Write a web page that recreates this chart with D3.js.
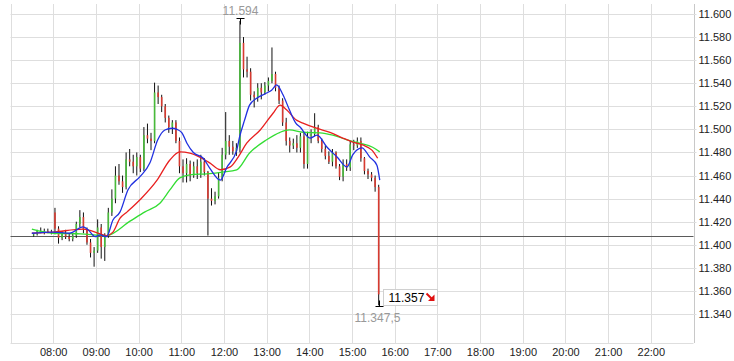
<!DOCTYPE html>
<html>
<head>
<meta charset="utf-8">
<script src="https://cdn.jsdelivr.net/npm/d3@7"></script>
<style>
  body { margin: 0; background: #fff; }
  svg { display: block; font-family: "Liberation Sans", Arial, sans-serif; }
  .axis text { font-size: 11px; fill: #222; }
  .axis path, .axis line { stroke: none; }
</style>
</head>
<body>
<script>
// 5-minute candles, first bar at 07:30 (index points)
const opens = [11408,11409,11412,11411,11412,11411,
  11428,11414,11406,11410,11407,11405,11408,11418,11424,11413,11402,11393,
  11395,11415,11398,11408,11428,11440,11460,11455,11450,11474,11472,11468,
  11476,11466,11495,11492,11490,11532,11528,11520,11510,11502,11506,11490,
  11468,11462,11470,11460,11468,11462,11472,11463,11440,11438,11442,11458,
  11478,11490,11485,11481,11484,11575,11552,11550,11530,11528,11536,11532,
  11538,11542,11548,11536,11525,11506,11490,11486,11488,11484,11494,11470,
  11494,11496,11502,11490,11483,11477,11472,11480,11468,11459,11470,11467,
  11487,11486,11490,11475,11464,11461,11458,11450];
const highs = [11410,11413,11415,11414,11414,11413,
  11432,11416,11412,11413,11410,11410,11420,11430,11428,11415,11405,11398,
  11422,11418,11410,11432,11448,11468,11470,11460,11480,11483,11478,11480,
  11478,11502,11505,11497,11540.5,11538,11530,11522,11512,11508,11508,11493,
  11474,11475,11473,11472,11474,11478,11475,11464,11449,11446,11463,11484,
  11515,11495,11490,11488,11594,11580,11563,11553,11533,11540,11540,11541,
  11545,11571,11550,11538,11527,11510,11493,11492,11495,11497,11497,11498,
  11500,11514,11504,11492,11486,11481,11483,11481,11470,11474,11474,11490,
  11491,11493,11493,11476,11466,11463,11460,11452];
const lows = [11407,11408,11410,11409,11410,11409,
  11409,11401,11404,11405,11403,11403,11406,11415,11410,11400,11389,11381,
  11393,11388,11386,11406,11425,11436,11452,11445,11448,11468,11462,11460,
  11463,11464,11488,11482,11488,11522,11515,11506,11497,11496,11488,11462,
  11454,11454,11455,11458,11457,11458,11460,11408,11434,11435,11440,11455,
  11474,11478,11478,11477,11480,11545,11545,11525,11519,11524,11526,11530,
  11533,11540,11533,11522,11503,11486,11480,11483,11480,11480,11466,11466,
  11488,11494,11488,11480,11474,11470,11468,11466,11456,11455,11464,11464,
  11482,11484,11472,11461,11457,11455,11446,11347.5];
const closes = [11409,11412,11411,11412,11411,11410,
  11414,11406,11410,11407,11405,11408,11418,11424,11413,11402,11393,11395,
  11415,11398,11408,11428,11440,11460,11455,11450,11474,11472,11468,11476,
  11466,11495,11492,11490,11532,11528,11520,11510,11502,11506,11490,11468,
  11462,11470,11460,11468,11462,11472,11463,11440,11438,11442,11458,11478,
  11490,11485,11481,11484,11575,11552,11550,11530,11528,11536,11532,11538,
  11542,11548,11536,11525,11506,11490,11486,11488,11484,11494,11470,11494,
  11496,11502,11490,11483,11477,11472,11480,11468,11459,11470,11467,11487,
  11486,11490,11475,11464,11461,11458,11450,11357];

const maBlue = [["07:30",11410],["08:00",11411],["08:23",11410],["08:42",11415.5],["08:49",11413],
  ["08:59",11407],["09:06",11408.5],["09:15",11407],["09:24",11421.5],["09:34",11428.5],["09:45",11447.5],
  ["10:02",11459],["10:16",11471],["10:27",11491],["10:37",11499.5],["10:47",11501],["10:54",11500],
  ["11:01",11497],["11:08",11488],["11:17",11480],["11:31",11475],["11:40",11466.5],["11:55",11456],
  ["12:04",11467],["12:18",11482],["12:22",11493.5],["12:29",11508],["12:36",11521],["12:46",11527],
  ["13:00",11531.5],["13:07",11534],["13:14",11538.5],["13:23",11530],["13:32",11517],["13:41",11505.5],
  ["13:47",11502],["14:01",11492.5],["14:11",11495],["14:25",11484.5],["14:39",11476],["14:53",11467.5],
  ["15:01",11478],["15:14",11484],["15:25",11476],["15:35",11469],["15:39",11456]];
const maRed = [["07:30",11410],["08:00",11411],["08:42",11413.5],["09:06",11409.5],["09:15",11408],
  ["09:24",11411],["09:34",11423],["09:44",11428.5],["10:02",11439],["10:26",11456],["10:44",11473.5],
  ["10:58",11480.5],["11:12",11479.5],["11:26",11476],["11:40",11471],["11:55",11465],["12:09",11467.5],
  ["12:20",11476],["12:32",11488],["12:51",11499.5],["13:09",11514],["13:19",11521],["13:28",11517],
  ["13:42",11508],["13:51",11505.5],["14:10",11501],["14:29",11497.5],["14:47",11492.5],["15:01",11489],
  ["15:15",11486.5],["15:28",11482],["15:36",11475]];
const maGreen = [["07:30",11413.5],["08:00",11410],["08:38",11409.5],["09:15",11408],["09:48",11420.5],
  ["10:09",11428.5],["10:30",11436],["10:44",11447.5],["10:58",11458],["11:12",11460.5],["11:36",11461.5],
  ["11:58",11463],["12:18",11465],["12:36",11479.5],["13:00",11491],["13:19",11497.5],["13:32",11499.5],
  ["13:51",11497.5],["14:15",11497],["14:33",11495],["14:53",11491],["15:11",11488],["15:29",11484.5],
  ["15:39",11480.5]];

const prevClose = 11408;
const lastPrice = 11357;
const yTicks = [11340,11360,11380,11400,11420,11440,11460,11480,11500,11520,11540,11560,11580,11600];
const xTickHours = ["08:00","09:00","10:00","11:00","12:00","13:00","14:00","15:00","16:00","17:00","18:00","19:00","20:00","21:00","22:00"];

const parse = d3.timeParse("%H:%M");
const de = d3.formatLocale({decimal: ",", thousands: ".", grouping: [3], currency: ["", " €"]});
const fmtAxis = de.format(",d");
const fmtPrice = de.format(",.1~f");

const width = 734, height = 361;
const plotTop = 4, plotBottom = 343, plotLeft = 10.5, plotRight = 693.5;

const x = d3.scaleTime().domain([parse("07:00"), parse("23:00")]).range([plotLeft, plotRight]);
const y = d3.scaleLinear().domain([11340, 11600]).range([314, 14]);

const start = parse("07:30");
const candles = opens.map((o, i) => ({
  t: d3.timeMinute.offset(start, i * 5),
  o, h: highs[i], l: lows[i], c: closes[i]
}));
const cx = d => x(d3.timeSecond.offset(d.t, 150));

const svg = d3.select("body").append("svg")
  .attr("width", width).attr("height", height);

// grid
const hours = d3.timeHours(parse("07:00"), d3.timeMinute.offset(parse("23:00"), 1));
svg.append("g").selectAll("line").data(hours).join("line")
  .attr("x1", d => Math.round(x(d)) + 0.5).attr("x2", d => Math.round(x(d)) + 0.5)
  .attr("y1", plotTop).attr("y2", plotBottom)
  .attr("stroke", (d, i) => i === hours.length - 1 ? "#c8c8c8" : "#dedede");

svg.append("g").selectAll("line").data(yTicks).join("line")
  .attr("x1", plotLeft).attr("x2", plotRight + 3)
  .attr("y1", d => Math.round(y(d)) + 0.5).attr("y2", d => Math.round(y(d)) + 0.5)
  .attr("stroke", "#dedede");

svg.append("line")
  .attr("x1", plotLeft).attr("x2", plotRight)
  .attr("y1", plotBottom + 0.5).attr("y2", plotBottom + 0.5)
  .attr("stroke", "#dedede");

// previous close line
svg.append("line")
  .attr("x1", plotLeft).attr("x2", plotRight)
  .attr("y1", Math.round(y(prevClose)) + 0.5).attr("y2", Math.round(y(prevClose)) + 0.5)
  .attr("stroke", "#5a5a5a");

// axes
svg.append("g").attr("class", "axis")
  .attr("transform", `translate(0,${plotBottom})`)
  .call(d3.axisBottom(x).tickValues(xTickHours.map(parse)).tickSize(0).tickPadding(5)
    .tickFormat(d3.timeFormat("%H:%M")));

svg.append("g").attr("class", "axis")
  .attr("transform", `translate(${plotRight},0)`)
  .call(d3.axisRight(y).tickValues(yTicks).tickSize(3).tickPadding(2).tickFormat(fmtAxis));

// candles
const cg = svg.append("g");
cg.selectAll("line").data(candles).join("line")
  .attr("x1", cx).attr("x2", cx)
  .attr("y1", d => y(d.h)).attr("y2", d => y(d.l))
  .attr("stroke", "#111").attr("stroke-width", 1);
cg.selectAll("rect").data(candles).join("rect")
  .attr("x", d => cx(d) - 0.8).attr("width", 1.6)
  .attr("y", d => y(Math.max(d.o, d.c)))
  .attr("height", d => Math.max(1, Math.abs(y(d.o) - y(d.c))))
  .attr("fill", d => d.c >= d.o ? "#48bb3a" : "#d83a30");

// moving averages
const line = d3.line().x(d => x(parse(d[0]))).y(d => y(d[1])).curve(d3.curveMonotoneX);
[[maGreen, "#33dd33"], [maRed, "#e82020"], [maBlue, "#2030e0"]].forEach(([data, col]) => {
  svg.append("path").datum(data).attr("d", line)
    .attr("fill", "none").attr("stroke", col).attr("stroke-width", 1.3);
});

// high marker
const hi = candles.reduce((a, b) => b.h > a.h ? b : a);
const hx = Math.round(cx(hi)) + 0.5, hy = Math.round(y(hi.h)) - 2.5;
svg.append("path").attr("d", `M${hx - 4},${hy}H${hx + 4}M${hx},${hy}V${hy + 6}`)
  .attr("stroke", "#000").attr("fill", "none");
svg.append("text").attr("x", hx).attr("y", hy - 4).attr("text-anchor", "middle")
  .attr("font-size", 12).attr("fill", "#999").text(fmtPrice(hi.h));

// low marker
const lo = candles.reduce((a, b) => b.l < a.l ? b : a);
const lx = Math.round(cx(lo)) + 0.5, ly = Math.round(y(lo.l)) + 1.5;
svg.append("path").attr("d", `M${lx - 4},${ly}H${lx + 4}M${lx},${ly}V${ly - 6}`)
  .attr("stroke", "#000").attr("fill", "none");
svg.append("text").attr("x", lx - 2).attr("y", ly + 15).attr("text-anchor", "middle")
  .attr("font-size", 12).attr("fill", "#999").text(fmtPrice(lo.l));

// last price box
const bx = lx + 4, by = Math.round(y(lastPrice)) - 4.5;
const box = svg.append("g").attr("transform", `translate(${bx},${by})`);
box.append("rect").attr("width", 54).attr("height", 16)
  .attr("fill", "#fff").attr("stroke", "#d0d0d0");
box.append("text").attr("x", 5).attr("y", 12.5).attr("font-size", 12)
  .attr("fill", "#000").text(fmtPrice(lastPrice));
box.append("path").attr("d", "M43,4L48.5,9.5").attr("stroke", "#e01010").attr("stroke-width", 2);
box.append("path").attr("d", "M44.5,11.5L51,11.5L51,5Z").attr("fill", "#e01010");
</script>
</body>
</html>
